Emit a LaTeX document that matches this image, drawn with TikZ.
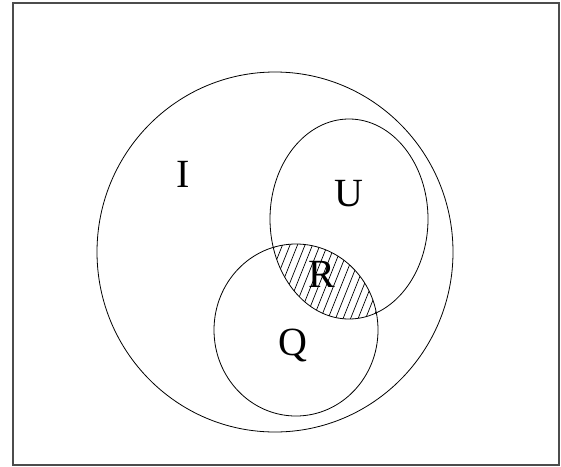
\documentclass[tikz,border=0pt]{standalone}
\usepackage{fontspec}
\setmainfont{Liberation Serif}
\tikzset{
  setline/.style = {draw, line width=0.8pt},
  setlabel/.style = {font=\fontsize{40}{44}\selectfont, inner sep=0pt, anchor=base},
  frame/.style = {draw=black!70, line width=1.5pt},
  hatch/.style = {line width=0.7pt}
}

\begin{document}
\begin{tikzpicture}[x=1pt, y=-1pt]
\useasboundingbox (0,0) rectangle (561,466);
\draw[frame] (13,3) rectangle (559,465);

% the three sets
\draw[setline] (275,252) ellipse [x radius=178, y radius=180];
\draw[setline] (349,219) ellipse [x radius=79, y radius=100];
\draw[setline] (296,330) ellipse [x radius=82, y radius=86];

% hatched part R = U and Q
\begin{scope}
  \clip (349,219) ellipse [x radius=79, y radius=100];
  \clip (296,330) ellipse [x radius=82, y radius=86];
  \foreach \i in {0,...,25}
    \draw[hatch] (196+7.5*\i,330) -- ++(60,-150);
\end{scope}

\node[setlabel] (I) at (183,187) {I};
\node[setlabel] (U) at (349,206) {U};
\node[setlabel] (R) at (322,287) {R};
\node[setlabel] (Q) at (293,355) {Q};
\end{tikzpicture}
\end{document}
